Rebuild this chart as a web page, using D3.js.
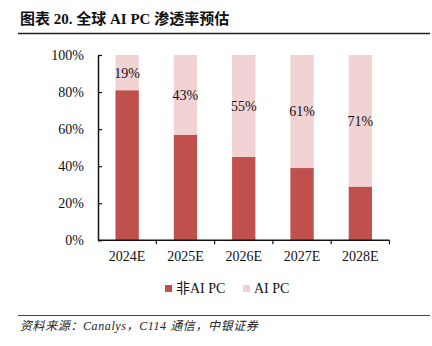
<!DOCTYPE html>
<html>
<head>
<meta charset="utf-8">
<script src="https://cdn.jsdelivr.net/npm/d3@7"></script>
<style>
  html, body { margin: 0; padding: 0; background: #fff; }
  svg { display: block; }
</style>
</head>
<body>
<svg id="chart" width="432" height="346"></svg>
<script>
// Forecast share of AI PCs in global PC shipments
const categories = ["2024E", "2025E", "2026E", "2027E", "2028E"];
const nonAiShare = [81, 57, 45, 39, 29];
const aiShare = [19, 43, 55, 61, 71];
const yTicks = [0, 20, 40, 60, 80, 100];
const seriesNames = ["非AI PC", "AI PC"];
const seriesColors = ["#C0504D", "#F2D3D4"];

const svg = d3.select("#chart");
const serif = "'Liberation Serif', 'Times New Roman', 'Noto Sans CJK SC', serif";

// Heading and rules
svg.append("text")
  .attr("x", 20).attr("y", 24)
  .attr("font-family", serif)
  .attr("font-weight", "bold")
  .attr("font-size", 15)
  .attr("fill", "#111")
  .text("图表 20. 全球 AI PC 渗透率预估");
svg.append("line").attr("x1", 18).attr("x2", 430).attr("y1", 33.5).attr("y2", 33.5)
  .attr("stroke", "#222").attr("stroke-width", 1.5);
svg.append("line").attr("x1", 18).attr("x2", 430).attr("y1", 315.5).attr("y2", 315.5)
  .attr("stroke", "#444").attr("stroke-width", 1);
svg.append("text")
  .attr("x", 20).attr("y", 330)
  .attr("font-family", serif)
  .attr("font-style", "italic")
  .attr("font-size", 12)
  .attr("letter-spacing", 0.6)
  .attr("fill", "#222")
  .text("资料来源：Canalys，C114 通信，中银证券");

// Plot area
const plot = { left: 98, right: 389.5, top: 55, bottom: 240.3 };
const x = d3.scaleBand().domain(categories).range([plot.left, plot.right]).padding(0);
const y = d3.scaleLinear().domain([0, 100]).range([plot.bottom, plot.top]);
const barW = x.bandwidth() * 0.4;

const rows = categories.map((c, i) => ({ cat: c, non: nonAiShare[i], ai: aiShare[i] }));
const stacked = d3.stack().keys(["non", "ai"])(rows);

const g = svg.append("g");
stacked.forEach((layer, li) => {
  g.selectAll(null).data(layer).enter().append("rect")
    .attr("x", d => x(d.data.cat) + (x.bandwidth() - barW) / 2)
    .attr("width", barW)
    .attr("y", d => y(d[1]))
    .attr("height", d => y(d[0]) - y(d[1]))
    .attr("fill", seriesColors[li]);
});

// Value labels on the AI PC segments
g.selectAll(null).data(stacked[1]).enter().append("text")
  .attr("x", d => x(d.data.cat) + x.bandwidth() / 2)
  .attr("y", d => (y(d[0]) + y(d[1])) / 2)
  .attr("dy", "0.35em")
  .attr("text-anchor", "middle")
  .attr("font-family", serif)
  .attr("font-size", 14)
  .attr("fill", "#111")
  .text(d => d.data.ai + "%");

// Y axis with inward ticks
const yAxis = d3.axisLeft(y).tickValues(yTicks).tickFormat(d => d + "%").tickSizeInner(-4).tickSizeOuter(0).tickPadding(14);
const yg = svg.append("g").attr("transform", `translate(${plot.left},0)`).call(yAxis);
yg.select(".domain").attr("stroke", "#111").attr("stroke-width", 1.5);
yg.selectAll(".tick line").attr("stroke", "#111").attr("stroke-width", 1.2);
yg.selectAll("text").attr("font-family", serif).attr("font-size", 14).attr("fill", "#111");

// X axis with boundary ticks
const xg = svg.append("g").attr("transform", `translate(0,${plot.bottom})`);
xg.append("line").attr("x1", plot.left).attr("x2", plot.right).attr("y1", 0).attr("y2", 0)
  .attr("stroke", "#111").attr("stroke-width", 1.5);
const bounds = categories.map(c => x(c) + x.bandwidth());
xg.selectAll(null).data(bounds).enter().append("line")
  .attr("x1", d => d).attr("x2", d => d).attr("y1", 0).attr("y2", 4)
  .attr("stroke", "#111").attr("stroke-width", 1.2);
xg.selectAll(null).data(categories).enter().append("text")
  .attr("x", d => x(d) + x.bandwidth() / 2)
  .attr("y", 21)
  .attr("text-anchor", "middle")
  .attr("font-family", serif)
  .attr("font-size", 14)
  .attr("fill", "#111")
  .text(d => d);

// Legend
const legendX = [165, 243];
const lg = svg.append("g");
seriesNames.forEach((name, i) => {
  lg.append("rect").attr("x", legendX[i]).attr("y", 285).attr("width", 7).attr("height", 7)
    .attr("fill", seriesColors[i]);
  lg.append("text").attr("x", legendX[i] + 11).attr("y", 293)
    .attr("font-family", serif).attr("font-size", 14).attr("fill", "#111")
    .text(name);
});
</script>
</body>
</html>
